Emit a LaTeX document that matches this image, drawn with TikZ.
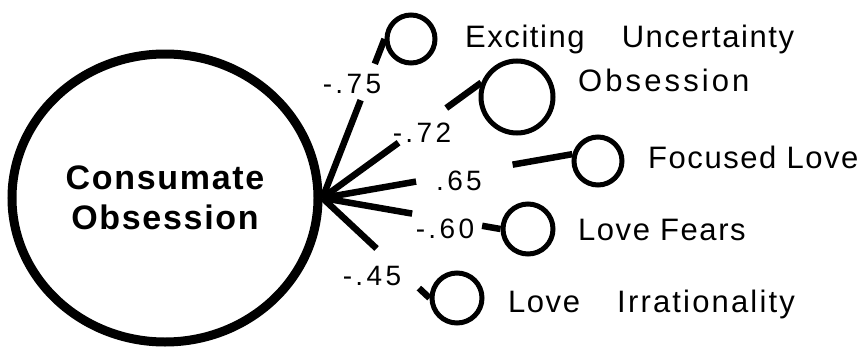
\documentclass[tikz,border=0pt]{standalone}
\usepackage{fontspec}
\setmainfont{Liberation Sans}
\newfontfamily\trackfont[LetterSpace=5]{Liberation Sans}
\newfontfamily\numfont[LetterSpace=12]{Liberation Sans}
\usetikzlibrary{shapes.geometric, positioning}

\begin{document}
\begin{tikzpicture}[x=1pt, y=-1pt]
\useasboundingbox (0,0) rectangle (862,348);
% Define styles
\tikzstyle{factor}=[ellipse, draw, line width=9pt, minimum width=306pt, minimum height=288pt, align=center, font=\trackfont\bfseries\fontsize{34}{40}\selectfont]
\tikzstyle{item}=[circle, draw, line width=5pt, inner sep=0pt]
\tikzstyle{lab}=[anchor=base west, inner sep=0pt, font=\trackfont\fontsize{31}{37}\selectfont]
\tikzstyle{num}=[anchor=base, inner sep=0pt, font=\numfont\fontsize{28}{34}\selectfont]
\tikzstyle{load}=[line width=6.5pt]
% Place nodes
\node[factor] (co) at (165,198) {Consumate\\Obsession};
\node[item, minimum size=48pt] (eu) at (411,39) {};
\node[item, minimum size=72pt] (ob) at (517,97) {};
\node[item, minimum size=48pt] (fl) at (598,161) {};
\node[item, minimum size=50pt] (lf) at (528,229) {};
\node[item, minimum size=50pt] (li) at (457,298) {};
% Scale names
\node[lab] (euText) at (465,47) {Exciting\hspace{1.2em}Uncertainty};
\node[lab] (obText) at (578,91) {\addfontfeature{LetterSpace=10}Obsession};
\node[lab] (flText) at (648,168) {Focused Love};
\node[lab] (lfText) at (578,240) {Love Fears};
\node[lab] (liText) at (508,312) {Love\hspace{1.2em}\addfontfeature{LetterSpace=7}Irrationality};
% Loadings
\node[num] (euLoad) at (352,93) {-.75};
\node[num] (obLoad) at (422,142) {-.72};
\node[num] (flLoad) at (459,190) {.65};
\node[num] (lfLoad) at (445,238) {-.60};
\node[num] (liLoad) at (372,285) {-.45};
% Draw lines
\draw[load, dash pattern=on 105pt off 39pt on 200pt] (co.east) -- (eu.west);
\draw[load, dash pattern=on 94pt off 59pt on 200pt] (co.east) -- (ob.158);
\draw[load, dash pattern=on 95pt off 98pt on 200pt] (co.east) -- (fl.165);
\draw[load, dash pattern=on 91pt off 71pt on 200pt] (co.east) -- (lf.west);
\draw[load, dash pattern=on 74pt off 58pt on 200pt] (co.east) -- (li.west);
\end{tikzpicture}
\end{document}
